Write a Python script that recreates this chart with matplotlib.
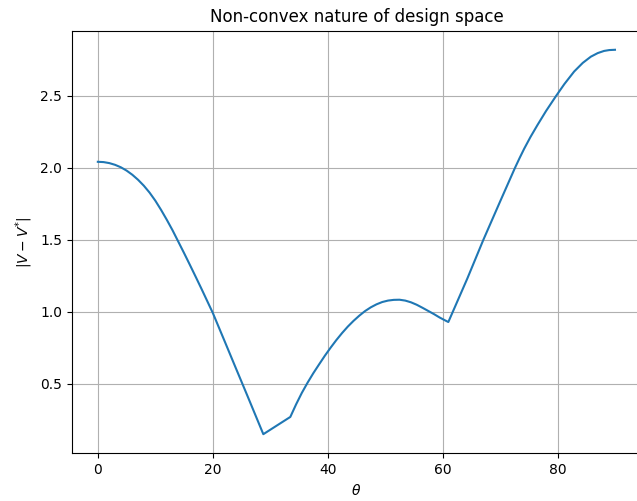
import matplotlib.pyplot as plt
import numpy as np

# Angle (deg) and distance to the target value
theta = [0, 1, 2, 3, 4, 5, 6, 7, 8, 9, 10, 11, 12, 13, 14, 15, 16, 17, 18, 19, 20,
         22, 24, 26, 28.8,
         33.5, 34.5, 35.5, 36.5, 37.5, 38.5, 39.5, 40.5, 41.5, 42.5, 43.5, 44.5,
         45.5, 46.5, 47.5, 48.5, 49.5, 50.5, 51.5, 52.5, 53.5, 54.5, 55.5, 56.5,
         57.5, 58.5, 59.5, 60.5, 61.0,
         64.3, 67.1, 70.0, 72.6, 73.4, 74.2, 75.3, 76.5, 78.0, 79.7, 81.2, 82.9,
         84.4, 85.8, 87.0, 88.1, 89.0, 90.0]
dist = [2.042, 2.040, 2.033, 2.021, 2.004, 1.981, 1.952, 1.917, 1.876, 1.828,
        1.772, 1.708, 1.639, 1.566, 1.487, 1.408, 1.327, 1.245, 1.162, 1.077, 0.992,
        0.801, 0.609, 0.418, 0.148,
        0.268, 0.355, 0.435, 0.506, 0.572, 0.633, 0.693, 0.749, 0.802, 0.851, 0.896,
        0.936, 0.972, 1.004, 1.030, 1.051, 1.067, 1.077, 1.082, 1.083, 1.077, 1.065,
        1.048, 1.027, 1.005, 0.983, 0.959, 0.938, 0.928,
        1.230, 1.5, 1.765, 2.0, 2.068, 2.133, 2.215, 2.297, 2.395, 2.497, 2.583,
        2.670, 2.730, 2.773, 2.798, 2.813, 2.819, 2.821]

fig = plt.figure(figsize=(6.37, 5.01), dpi=100)
ax = fig.add_axes([0.113, 0.095, 0.893, 0.844])
ax.plot(theta, dist)
ax.grid()
ax.set_title("Non-convex nature of design space")
ax.set_xlabel(r"$\theta$")
ax.set_ylabel(r"$|V - V^{*}|$")
fig.savefig("out.png", dpi=100)
